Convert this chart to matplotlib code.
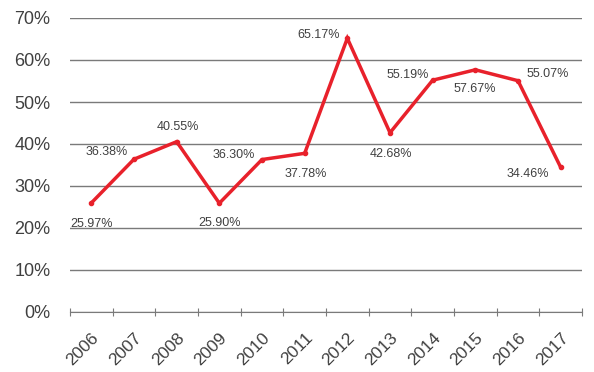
import matplotlib.pyplot as plt
import numpy as np

# Data
years = ['2006', '2007', '2008', '2009', '2010', '2011',
         '2012', '2013', '2014', '2015', '2016', '2017']
rates = [25.97, 36.38, 40.55, 25.90, 36.30, 37.78,
         65.17, 42.68, 55.19, 57.67, 55.07, 34.46]

# Label offsets in pixels (dx, dy) relative to each point
label_offsets = [(0, -21), (-27, 7), (1, 15), (0, -20), (-28, 5), (1, -21),
                 (-29, 3), (1, -21), (-25, 5), (-1, -19), (30, 7), (-33, -7)]

plt.rcParams['font.family'] = ['Liberation Sans', 'DejaVu Sans']
text_color = '#404040'

fig = plt.figure(figsize=(5.94, 3.72), dpi=100)
ax = fig.add_axes([70 / 594, 1 - 312 / 372, 512 / 594, (312 - 18) / 372])

x = np.arange(len(years))
vals = np.array(rates) / 100

ax.plot(x, vals, color='#e8212b', lw=2.5, marker='o', markersize=3,
        solid_joinstyle='miter', zorder=3)

for xi, v, (dx, dy) in zip(x, vals, label_offsets):
    ax.annotate(f'{v * 100:.2f}%', (xi, v), xytext=(dx, dy),
                textcoords='offset pixels', ha='center', va='center',
                fontsize=9, color=text_color)

ax.set_xlim(-0.5, len(years) - 0.5)
ax.set_ylim(0, 0.7)
ax.set_yticks(np.arange(0, 0.71, 0.1))
ax.set_yticklabels([f'{int(round(t * 100))}%' for t in np.arange(0, 0.71, 0.1)],
                   fontsize=13, color=text_color)
ax.yaxis.grid(True, color='#7a7a7a', lw=1)
ax.set_axisbelow(True)
ax.tick_params(axis='y', length=0, pad=14)

# category boundaries carry the tick marks, labels sit at centres
ax.set_xticks(np.arange(-0.5, len(years), 1.0))
ax.set_xticklabels([])
ax.set_xticks(x, minor=True)
ax.set_xticklabels(years, minor=True, rotation=45, ha='right',
                   rotation_mode='anchor', fontsize=12.5, color=text_color)
ax.tick_params(axis='x', which='major', length=6, color='#7a7a7a', direction='inout')
ax.tick_params(axis='x', which='minor', length=0, pad=13)

for s in ['left', 'right', 'top']:
    ax.spines[s].set_visible(False)
ax.spines['bottom'].set_color('#7a7a7a')

fig.savefig('out.png', dpi=100)
